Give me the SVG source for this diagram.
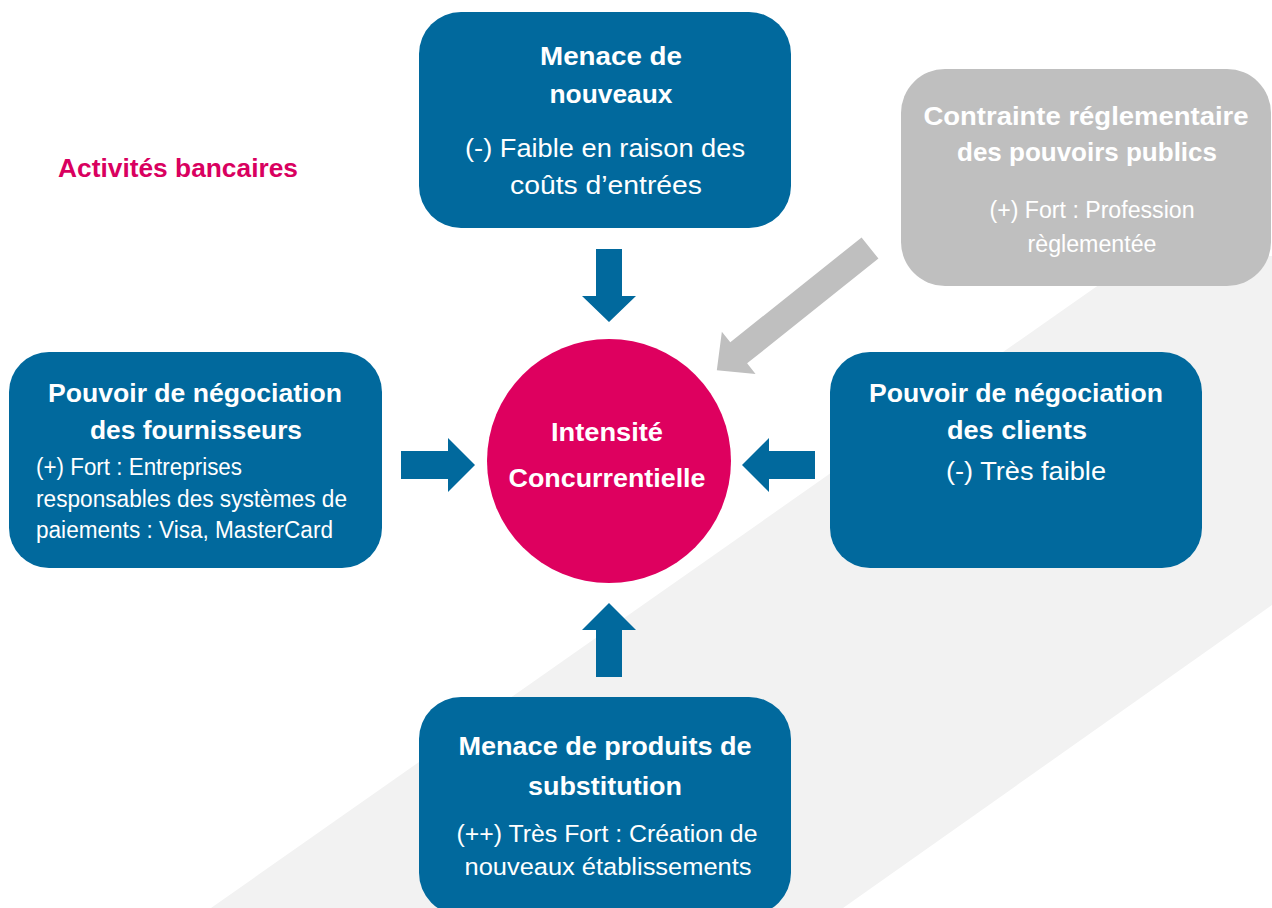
<svg xmlns="http://www.w3.org/2000/svg" width="1272" height="908" viewBox="0 0 1272 908">
<style>
.box{fill:#01699D}
.t{font-family:"Liberation Sans",Arial,sans-serif;fill:#FFFFFF}
.b{font-weight:bold;font-size:25px}
.r{font-size:26px}
.s{font-size:23px}
.arr{fill:#01699D}
</style>
<rect x="0" y="0" width="1272" height="908" fill="#FFFFFF"/>
<polygon points="211,908 1140,256 1272,256 1272,605 843,908" fill="#F2F2F2"/>
<text x="58" y="177" font-family="Liberation Sans, Arial, sans-serif" font-weight="bold" font-size="25" fill="#D9005F" textLength="240" lengthAdjust="spacingAndGlyphs">Activités bancaires</text>

<g id="connectors">
<polygon class="arr" points="596,249 622,249 622,296 636,296 609,322 582,296 596,296"/>
<polygon class="arr" points="609,603 636,630 622,630 622,677 596,677 596,630 582,630"/>
<polygon class="arr" points="401,451 448,451 448,438 475,465 448,492 448,479 401,479"/>
<polygon class="arr" points="815,451 769,451 769,438 742,465 769,492 769,479 815,479"/>
<polygon fill="#BFBFBF" transform="translate(870,248) rotate(141.4)" points="0,-13.5 168,-13.5 168,-27 196,0 168,27 168,13.5 0,13.5"/>
</g>

<g id="node-nouveaux">
<rect class="box" x="419" y="12" width="372" height="216" rx="42"/>
<text class="t b" x="611" y="65" text-anchor="middle" textLength="142" lengthAdjust="spacingAndGlyphs">Menace de</text>
<text class="t b" x="611" y="103" text-anchor="middle" textLength="123" lengthAdjust="spacingAndGlyphs">nouveaux</text>
<text class="t r" x="605" y="157" text-anchor="middle" textLength="280" lengthAdjust="spacingAndGlyphs">(-) Faible en raison des</text>
<text class="t r" x="606" y="194" text-anchor="middle" textLength="192" lengthAdjust="spacingAndGlyphs">coûts d’entrées</text>
</g>

<g id="node-contrainte">
<rect x="901" y="69" width="370" height="217" rx="44" fill="#BFBFBF"/>
<text class="t b" x="1086" y="125" text-anchor="middle" textLength="325" lengthAdjust="spacingAndGlyphs">Contrainte réglementaire</text>
<text class="t b" x="1087" y="161" text-anchor="middle" textLength="260" lengthAdjust="spacingAndGlyphs">des pouvoirs publics</text>
<text class="t s" x="1092" y="218" text-anchor="middle" textLength="205" lengthAdjust="spacingAndGlyphs">(+) Fort : Profession</text>
<text class="t s" x="1092" y="252" text-anchor="middle" textLength="129" lengthAdjust="spacingAndGlyphs">règlementée</text>
</g>

<g id="node-fournisseurs">
<rect class="box" x="9" y="352" width="373" height="216" rx="40"/>
<text class="t b" x="195" y="402" text-anchor="middle" textLength="294" lengthAdjust="spacingAndGlyphs">Pouvoir de négociation</text>
<text class="t b" x="196" y="439" text-anchor="middle" textLength="212" lengthAdjust="spacingAndGlyphs">des fournisseurs</text>
<text class="t s" x="36" y="475" textLength="206" lengthAdjust="spacingAndGlyphs">(+) Fort : Entreprises</text>
<text class="t s" x="36" y="507" textLength="311" lengthAdjust="spacingAndGlyphs">responsables des systèmes de</text>
<text class="t s" x="36" y="538" textLength="297" lengthAdjust="spacingAndGlyphs">paiements : Visa, MasterCard</text>
</g>

<g id="node-clients">
<rect class="box" x="830" y="352" width="372" height="216" rx="40"/>
<text class="t b" x="1016" y="402" text-anchor="middle" textLength="294" lengthAdjust="spacingAndGlyphs">Pouvoir de négociation</text>
<text class="t b" x="1017" y="439" text-anchor="middle" textLength="140" lengthAdjust="spacingAndGlyphs">des clients</text>
<text class="t r" x="1026" y="480" text-anchor="middle" textLength="160" lengthAdjust="spacingAndGlyphs">(-) Très faible</text>
</g>

<g id="node-substitution">
<rect class="box" x="419" y="697" width="372" height="218" rx="42"/>
<text class="t b" x="605" y="755" text-anchor="middle" textLength="293" lengthAdjust="spacingAndGlyphs">Menace de produits de</text>
<text class="t b" x="605" y="795" text-anchor="middle" textLength="154" lengthAdjust="spacingAndGlyphs">substitution</text>
<text class="t s" x="607" y="842" text-anchor="middle" textLength="301" lengthAdjust="spacingAndGlyphs">(++) Très Fort : Création de</text>
<text class="t s" x="608" y="875" text-anchor="middle" textLength="287" lengthAdjust="spacingAndGlyphs">nouveaux établissements</text>
</g>

<g id="node-intensite">
<circle cx="609" cy="461" r="122" fill="#DE005F"/>
<text class="t b" x="607" y="441" text-anchor="middle" textLength="112" lengthAdjust="spacingAndGlyphs">Intensité</text>
<text class="t b" x="607" y="487" text-anchor="middle" textLength="197" lengthAdjust="spacingAndGlyphs">Concurrentielle</text>
</g>
</svg>
